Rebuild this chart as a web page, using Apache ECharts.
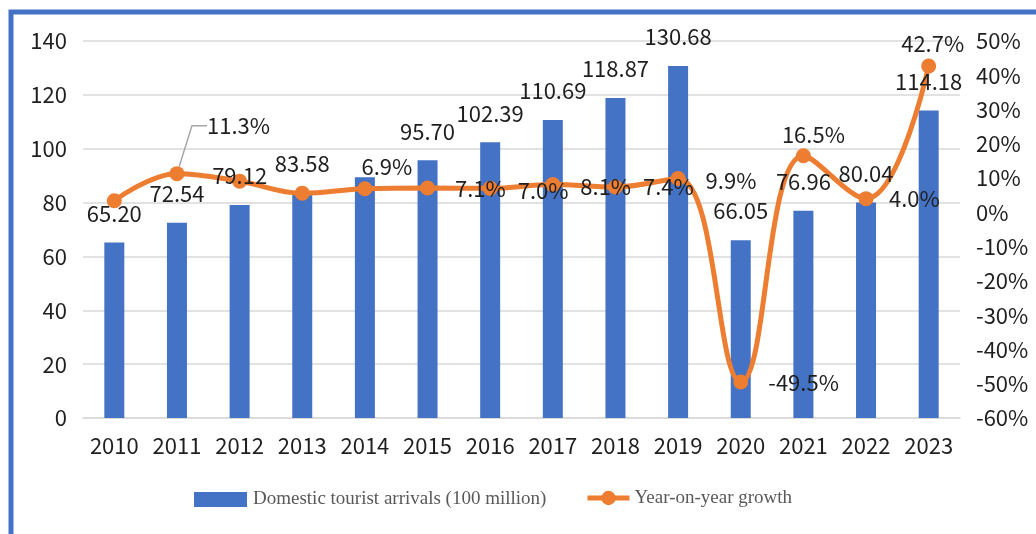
<!DOCTYPE html>
<html>
<head>
<meta charset="utf-8">
<title>Domestic tourist arrivals 2010-2023</title>
<script src="https://cdn.jsdelivr.net/npm/echarts@6.0.0/dist/echarts.min.js"></script>
<style>
  html, body { margin: 0; padding: 0; background: #ffffff; }
  #chart { width: 1036px; height: 534px; }
</style>
</head>
<body>
<div id="chart"></div>
<script>
// Years on the category axis
const years = ['2010', '2011', '2012', '2013', '2014', '2015', '2016',
               '2017', '2018', '2019', '2020', '2021', '2022', '2023'];

// Domestic tourist arrivals, in units of 100 million
const arrivals = [65.20, 72.54, 79.12, 83.58, 89.36, 95.70, 102.39,
                  110.69, 118.87, 130.68, 66.05, 76.96, 80.04, 114.18];

// Year-on-year growth, percent
const growth = [3.4, 11.3, 9.1, 5.6, 6.9, 7.1, 7.0,
                8.1, 7.4, 9.9, -49.5, 16.5, 4.0, 42.7];

// Axis tick ranges
const leftTicks = { min: 0, max: 140, step: 20 };
const rightTicks = { min: -60, max: 50, step: 10 };

const seriesNames = ['Domestic tourist arrivals (100 million)', 'Year-on-year growth'];

const BLUE = '#4472C4';
const ORANGE = '#ED7D31';
const GRID = '#D9D9D9';
const TEXT = '#1f1f1f';
const NUM_FONT = '"Noto Sans CJK SC", "Noto Sans", sans-serif';
const LEGEND_FONT = '"Liberation Serif", "Times New Roman", serif';

// Years whose bar value is left unlabelled
const hiddenArrivalLabels = [4];

// Where each growth label sits next to its point (null = no label)
const growthLabelPlacement = [
  null,
  { position: 'right', distance: 13.5, dx: 0, dy: -48, leader: true },
  null,
  null,
  { position: 'top', distance: 3.5, dx: 22, dy: 0 },
  { position: 'right', distance: 20, dx: 0, dy: 1 },
  { position: 'right', distance: 20, dx: 0, dy: 2 },
  { position: 'right', distance: 20, dx: 0, dy: 2 },
  { position: 'right', distance: 20, dx: 0, dy: 0 },
  { position: 'right', distance: 20, dx: 0, dy: 2 },
  { position: 'right', distance: 20, dx: 0, dy: 1 },
  { position: 'top', distance: 3, dx: 10, dy: 0 },
  { position: 'right', distance: 15.5, dx: 0, dy: 0 },
  { position: 'top', distance: 3.5, dx: 4, dy: 0 }
];

const growthData = growth.map(function (v, i) {
  const p = growthLabelPlacement[i];
  if (!p) {
    return { value: v, label: { show: false } };
  }
  const item = {
    value: v,
    label: { show: true, position: p.position, distance: p.distance }
  };
  if (p.leader) {
    item.label.padding = [0, 0, 0, 9];
    item.labelLine = {
      show: true,
      length2: 15,
      smooth: false,
      lineStyle: { color: '#A6A6A6', width: 1.5 }
    };
  }
  return item;
});

const arrivalData = arrivals.map(function (v, i) {
  return hiddenArrivalLabels.indexOf(i) >= 0 ? { value: v, label: { show: false } } : v;
});

const chart = echarts.init(document.getElementById('chart'), null, { renderer: 'canvas' });

chart.setOption({
  animation: false,
  backgroundColor: '#ffffff',
  graphic: [{
    type: 'rect',
    silent: true,
    z: 100,
    shape: { x: 11, y: 12, width: 1400, height: 900 },
    style: { fill: 'none', stroke: BLUE, lineWidth: 5 }
  }],
  grid: {
    left: 83,
    right: 76,
    top: 41,
    bottom: 116,
    containLabel: false,
    outerBoundsMode: 'none'
  },
  legend: [{
    data: [seriesNames[0]],
    left: 194,
    top: 490,
    padding: 0,
    itemWidth: 53,
    itemHeight: 15,
    icon: 'rect',
    selectedMode: false,
    textStyle: { fontFamily: LEGEND_FONT, fontSize: 19, color: '#595959', padding: [0, 0, 0, 1] }
  }, {
    data: [seriesNames[1]],
    left: 585,
    top: 488.5,
    padding: 0,
    itemWidth: 42,
    itemHeight: 18,
    selectedMode: false,
    lineStyle: { width: 5 },
    textStyle: { fontFamily: LEGEND_FONT, fontSize: 19, color: '#595959' }
  }],
  xAxis: {
    type: 'category',
    data: years,
    boundaryGap: true,
    axisTick: { show: false },
    axisLine: { show: true, lineStyle: { color: GRID, width: 1.5 } },
    axisLabel: { interval: 0, margin: 17, fontFamily: NUM_FONT, fontSize: 22, color: TEXT }
  },
  yAxis: [{
    type: 'value',
    min: leftTicks.min,
    max: leftTicks.max,
    interval: leftTicks.step,
    axisLine: { show: false },
    axisTick: { show: false },
    splitLine: { show: true, lineStyle: { color: GRID, width: 1.5 } },
    axisLabel: { margin: 16, fontFamily: NUM_FONT, fontSize: 22, color: TEXT }
  }, {
    type: 'value',
    position: 'right',
    min: rightTicks.min,
    max: rightTicks.max,
    interval: rightTicks.step,
    axisLine: { show: false },
    axisTick: { show: false },
    splitLine: { show: false },
    axisLabel: { margin: 16, fontFamily: NUM_FONT, fontSize: 22, color: TEXT, formatter: '{value}%' }
  }],
  series: [{
    name: seriesNames[0],
    type: 'bar',
    yAxisIndex: 0,
    data: arrivals,
    barWidth: 20,
    barGap: '-100%',
    itemStyle: { color: BLUE },
    z: 2
  }, {
    name: seriesNames[1],
    type: 'line',
    yAxisIndex: 1,
    data: growthData,
    smooth: 0.4,
    symbol: 'circle',
    symbolSize: 15,
    lineStyle: { color: ORANGE, width: 5 },
    itemStyle: { color: ORANGE },
    label: {
      fontFamily: NUM_FONT,
      fontSize: 22,
      color: TEXT,
      formatter: function (p) { return p.value.toFixed(1) + '%'; }
    },
    labelLayout: function (params) {
      const p = growthLabelPlacement[params.dataIndex];
      if (!p) { return {}; }
      return { dx: p.dx, dy: p.dy };
    },
    z: 3
  }, {
    // value labels for the bars, kept above the growth line
    name: 'arrivalLabels',
    type: 'bar',
    yAxisIndex: 0,
    data: arrivalData,
    barWidth: 20,
    barGap: '-100%',
    silent: true,
    itemStyle: { color: 'rgba(0,0,0,0)' },
    label: {
      show: true,
      position: 'top',
      distance: 18,
      fontFamily: NUM_FONT,
      fontSize: 22,
      color: TEXT,
      formatter: function (p) { return p.value.toFixed(2); }
    },
    z: 5
  }]
});
</script>
</body>
</html>
